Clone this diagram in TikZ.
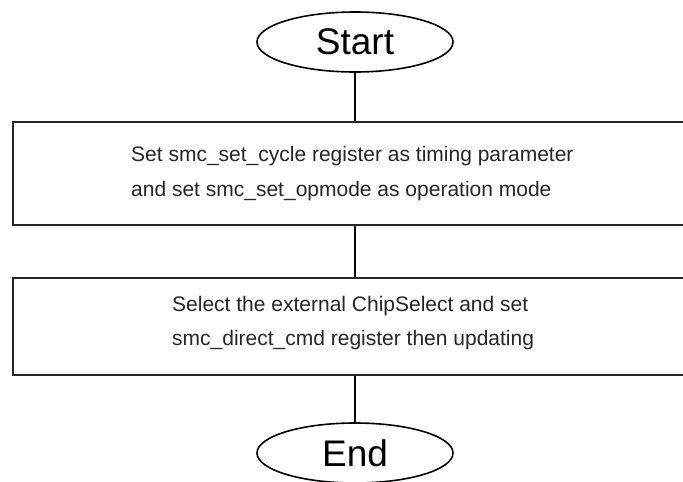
\documentclass[tikz,border=0pt]{standalone}
\usepackage{fontspec}
\setmainfont{Liberation Sans}
\usetikzlibrary{shapes.geometric}
\begin{document}
\begin{tikzpicture}[x=1pt,y=1pt,
  term/.style={draw=black,line width=1.6pt,ellipse,minimum width=196pt,minimum height=60pt,inner sep=0pt,font=\fontsize{37}{40}\selectfont},
  procbox/.style={draw=black!85,line width=1.8pt,rectangle,minimum width=684pt,inner sep=0pt},
  btext/.style={anchor=base west,inner sep=0pt,font=\fontsize{21}{24}\selectfont,text=black!85},
  conn/.style={draw=black,line width=1.6pt}]
\useasboundingbox (0,0) rectangle (683,-482);
\fill[white] (0,0) rectangle (683,-482);
\node[term] (start) at (355,-42) {Start};
\node[procbox,minimum height=103pt] (b1) at (355,-173.5) {};
\node[procbox,minimum height=97pt] (b2) at (355,-326.5) {};
\node[term] (end) at (355,-453) {End};
\node[btext] (t1a) at (131,-161) {Set smc\_set\_cycle register as timing parameter};
\node[btext] (t1b) at (131,-196) {and set smc\_set\_opmode as operation mode};
\node[btext] (t2a) at (172,-311) {Select the external ChipSelect and set};
\node[btext] (t2b) at (172,-345) {smc\_direct\_cmd register then updating};
\draw[conn] (start.south) -- (b1.north);
\draw[conn] (b1.south) -- (b2.north);
\draw[conn] (b2.south) -- (end.north);
\end{tikzpicture}
\end{document}
